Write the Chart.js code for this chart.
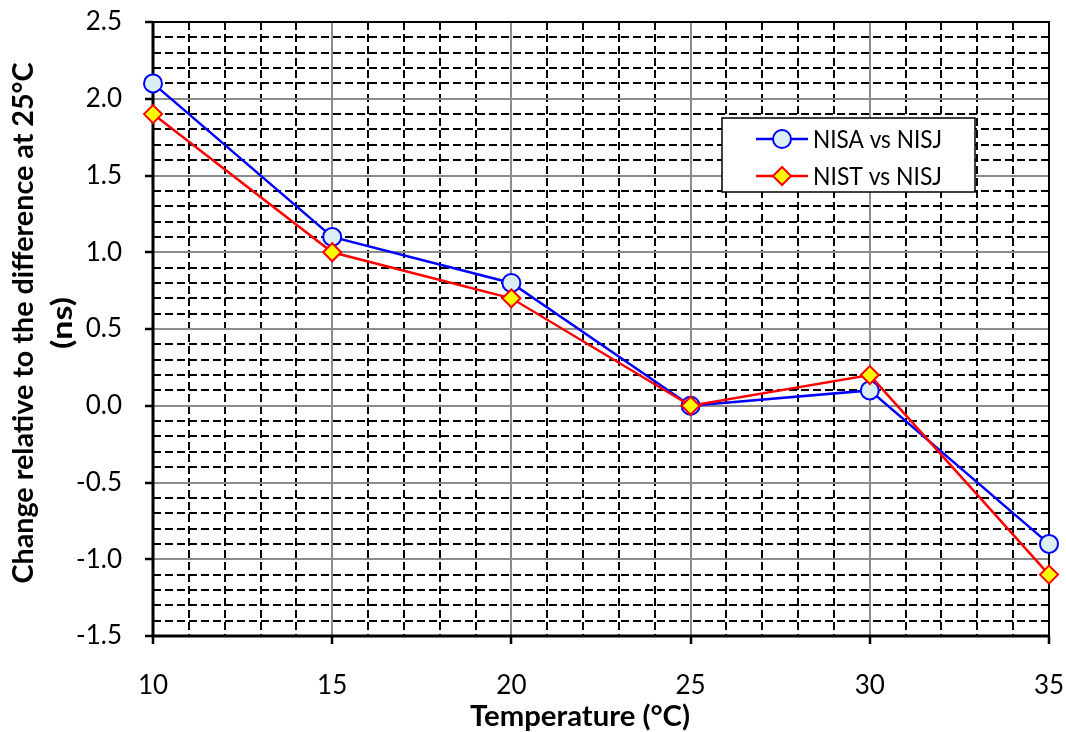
<!DOCTYPE html>
<html>
<head>
<meta charset="utf-8">
<script src="https://cdn.jsdelivr.net/npm/chart.js@4/dist/chart.umd.min.js"></script>
<style>
  html, body { margin: 0; padding: 0; background: #fff; }
  #wrap { width: 1066px; height: 732px; }
</style>
</head>
<body>
<div id="wrap"><canvas id="tempChart" width="1066" height="732"></canvas></div>
<script>
// data
const temperatures = [10, 15, 20, 25, 30, 35];
const nisaVsNisj = [2.1, 1.1, 0.8, 0.0, 0.1, -0.9];
const nistVsNisj = [1.9, 1.0, 0.7, 0.0, 0.2, -1.1];
const seriesNames = ['NISA vs NISJ', 'NIST vs NISJ'];
const xTitle = 'Temperature (°C)';
const yTitleLines = ['Change relative to the difference at 25°C', '(ns)'];

const FONT = 'Lato, "Open Sans", sans-serif';

const isMajorX = v => Math.abs(v / 5 - Math.round(v / 5)) < 1e-6;
const isMajorY = v => Math.abs(v * 2 - Math.round(v * 2)) < 1e-6;

// solid grey major lines + frame, drawn over the dashed minor grid
const frameAndMajors = {
    id: 'frameAndMajors',
    beforeDatasetsDraw(chart) {
        const { ctx, chartArea: a, scales } = chart;
        ctx.save();
        ctx.strokeStyle = '#8c8c8c';
        ctx.lineWidth = 2;
        for (let v = 15; v < 35; v += 5) {
            const x = Math.round(scales.x.getPixelForValue(v));
            ctx.beginPath(); ctx.moveTo(x, a.top); ctx.lineTo(x, a.bottom); ctx.stroke();
        }
        for (let v = -1; v < 2.5; v += 0.5) {
            const y = Math.round(scales.y.getPixelForValue(v));
            ctx.beginPath(); ctx.moveTo(a.left, y); ctx.lineTo(a.right, y); ctx.stroke();
        }
        ctx.strokeStyle = '#000';
        ctx.lineWidth = 2;
        ctx.beginPath();
        ctx.moveTo(a.left, a.top); ctx.lineTo(a.right, a.top); ctx.lineTo(a.right, a.bottom);
        ctx.stroke();
        ctx.lineWidth = 3;
        ctx.beginPath();
        ctx.moveTo(a.left, a.top); ctx.lineTo(a.left, a.bottom); ctx.lineTo(a.right, a.bottom);
        ctx.stroke();
        ctx.restore();
    }
};

// draw text at a given size, scaled horizontally to a target width
function fitText(ctx, text, font, width, x, y) {
    ctx.save();
    ctx.font = font;
    const w = ctx.measureText(text).width;
    const k = width / w;
    ctx.translate(x, y);
    ctx.scale(k, 1);
    ctx.fillText(text, 0, 0);
    ctx.restore();
}

function drawMarker(ctx, ds, x, y) {
    ctx.save();
    ctx.fillStyle = ds.pointBackgroundColor;
    ctx.strokeStyle = ds.pointBorderColor;
    ctx.lineWidth = ds.pointBorderWidth;
    ctx.beginPath();
    const r = ds.pointRadius;
    if (ds.pointStyle === 'rectRot') {
        ctx.moveTo(x, y - r); ctx.lineTo(x + r, y); ctx.lineTo(x, y + r); ctx.lineTo(x - r, y);
        ctx.closePath();
    } else {
        ctx.arc(x, y, r, 0, Math.PI * 2);
    }
    ctx.fill();
    ctx.stroke();
    ctx.restore();
}

// legend box inside the plot + axis titles
const legendAndTitles = {
    id: 'legendAndTitles',
    afterDraw(chart) {
        const { ctx } = chart;
        ctx.save();
        // legend
        ctx.fillStyle = '#fff';
        ctx.fillRect(722, 118, 253, 74);
        ctx.strokeStyle = '#000';
        ctx.lineWidth = 1.5;
        ctx.strokeRect(722, 118, 253, 74);
        const rows = [139, 176];
        [chart.data.datasets[1], chart.data.datasets[0]].forEach((ds, i) => {
            const y = rows[i];
            ctx.strokeStyle = ds.borderColor;
            ctx.lineWidth = ds.borderWidth;
            ctx.beginPath(); ctx.moveTo(756, y); ctx.lineTo(808, y); ctx.stroke();
            drawMarker(ctx, ds, 782, y);
            ctx.fillStyle = '#000';
            ctx.textBaseline = 'middle';
            ctx.textAlign = 'left';
            fitText(ctx, ds.label, '25px ' + FONT, 129, 813, y + 1);
        });

        // x title
        ctx.fillStyle = '#000';
        ctx.textAlign = 'left';
        ctx.textBaseline = 'alphabetic';
        fitText(ctx, xTitle, 'bold 29px ' + FONT, 220, 470, 726);

        // y title, rotated
        ctx.rotate(-Math.PI / 2);
        ctx.textAlign = 'center';
        fitText(ctx, yTitleLines[0], 'bold 28px ' + FONT, 521, -323, 33);
        fitText(ctx, yTitleLines[1], 'bold 28px ' + FONT, 52, -323, 72);
        ctx.restore();
    }
};

new Chart(document.getElementById('tempChart'), {
    type: 'line',
    data: {
        datasets: [
            {
                label: seriesNames[1],
                data: temperatures.map((t, i) => ({ x: t, y: nistVsNisj[i] })),
                borderColor: '#ff0000',
                borderWidth: 2.5,
                pointStyle: 'rectRot',
                pointRadius: 9,
                pointBackgroundColor: '#ffff00',
                pointBorderColor: '#ff0000',
                pointBorderWidth: 2,
                clip: false,
                order: 1
            },
            {
                label: seriesNames[0],
                data: temperatures.map((t, i) => ({ x: t, y: nisaVsNisj[i] })),
                borderColor: '#0000ff',
                borderWidth: 2.5,
                pointStyle: 'circle',
                pointRadius: 9,
                pointBackgroundColor: '#dbeef4',
                pointBorderColor: '#0000ff',
                pointBorderWidth: 2,
                clip: false,
                order: 2
            }
        ]
    },
    options: {
        responsive: false,
        animation: false,
        layout: { padding: { top: 22, right: 17, left: 0, bottom: 0 } },
        plugins: {
            legend: { display: false },
            tooltip: { enabled: false }
        },
        scales: {
            x: {
                type: 'linear',
                min: 10,
                max: 35,
                afterFit: s => { s.height = 96; s.paddingLeft = 0; s.paddingRight = 0; },
                ticks: {
                    stepSize: 1,
                    autoSkip: false,
                    maxRotation: 0,
                    padding: 26,
                    color: '#000',
                    font: { family: FONT, size: 26 },
                    callback: v => isMajorX(v) ? String(Math.round(v)) : ''
                },
                grid: {
                    color: c => isMajorX(c.tick.value) ? 'rgba(0,0,0,0)' : '#000',
                    lineWidth: 2,
                    tickLength: 8,
                    tickWidth: 2.5,
                    tickColor: c => isMajorX(c.tick.value) ? '#000' : 'rgba(0,0,0,0)',
                    tickBorderDash: []
                },
                border: { display: false, dash: [8, 4] }
            },
            y: {
                type: 'linear',
                min: -1.5,
                max: 2.5,
                afterFit: s => { s.width = 153; s.paddingTop = 0; s.paddingBottom = 0; },
                ticks: {
                    stepSize: 0.1,
                    autoSkip: false,
                    padding: 23,
                    color: '#000',
                    font: { family: FONT, size: 26 },
                    callback: v => isMajorY(v) ? v.toFixed(1) : ''
                },
                grid: {
                    color: c => isMajorY(c.tick.value) ? 'rgba(0,0,0,0)' : '#000',
                    lineWidth: 2,
                    tickLength: 8,
                    tickWidth: 2.5,
                    tickColor: c => isMajorY(c.tick.value) ? '#000' : 'rgba(0,0,0,0)',
                    tickBorderDash: []
                },
                border: { display: false, dash: [8, 4] }
            }
        }
    },
    plugins: [frameAndMajors, legendAndTitles]
});
</script>
</body>
</html>
